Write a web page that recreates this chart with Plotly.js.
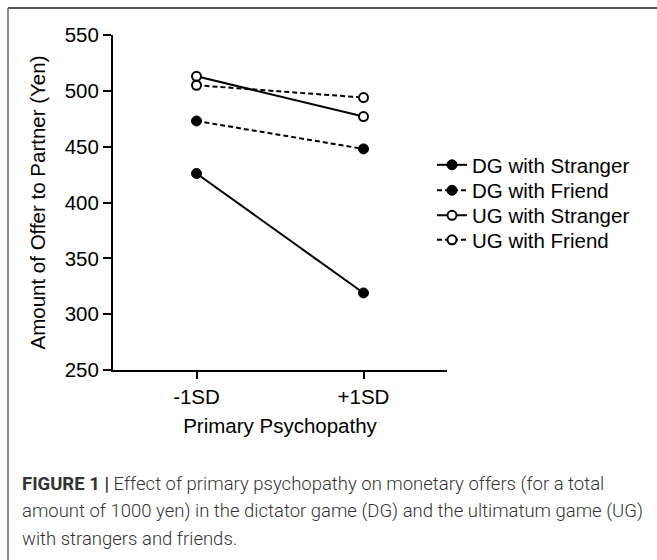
<!DOCTYPE html>
<html>
<head>
<meta charset="utf-8">
<script src="https://cdn.plot.ly/plotly-3.0.1.min.js"></script>
<style>html,body{margin:0;padding:0;background:#fff;}#chart{width:657px;height:560px;}</style>
</head>
<body>
<div id="chart"></div>
<script>
const categories = ['-1SD', '+1SD'];
const dgStranger = [426, 319];
const dgFriend = [473, 448];
const ugStranger = [513, 477];
const ugFriend = [505, 494];
const seriesNames = ['DG with Stranger', 'DG with Friend', 'UG with Stranger', 'UG with Friend'];
const yTicks = [250, 300, 350, 400, 450, 500, 550];
const captionLines = [
  '<b>FIGURE 1 |</b> Effect of primary psychopathy on monetary offers (for a total',
  'amount of 1000 yen) in the dictator game (DG) and the ultimatum game (UG)',
  'with strangers and friends.'
];

const FONT = 'Liberation Sans, Arial, sans-serif';
const xIdx = categories.map((c, i) => i);
const legendIds = ['legend', 'legend2', 'legend3', 'legend4'];

function trace(i, y, dash, filled) {
  return {
    type: 'scatter', mode: 'lines+markers', name: seriesNames[i], legend: legendIds[i],
    x: xIdx, y: y,
    line: {color: '#000', width: 2, dash: dash},
    marker: filled ? {symbol: 'circle', size: 10, color: '#000', line: {color: '#000', width: 1}}
                   : {symbol: 'circle', size: 9, color: '#fff', line: {color: '#000', width: 2}}
  };
}

const data = [
  trace(0, dgStranger, 'solid', true),
  trace(1, dgFriend, '5px,3px', true),
  trace(2, ugStranger, 'solid', false),
  trace(3, ugFriend, '5px,3px', false)
];

const L = 113, R = 447, T = 35, B = 370, W = 657, H = 560;
const px2x = p => (p - L) / (R - L);
const py2y = p => (B - p) / (B - T);

const annotations = captionLines.map((t, i) => ({
  text: t, xref: 'paper', yref: 'paper', x: px2x(20), y: py2y(484 + i * 27.5),
  xanchor: 'left', yanchor: 'middle', showarrow: false, align: 'left',
  font: {family: 'Roboto, Liberation Sans, sans-serif', size: 18.5, color: '#333', weight: 300}
}));

const layout = {
  width: W, height: H,
  margin: {l: L, r: W - R, t: T, b: H - B, pad: 0},
  paper_bgcolor: '#fff', plot_bgcolor: '#fff',
  font: {family: FONT, color: '#000', size: 20.5},
  showlegend: true,
  xaxis: {
    range: [-0.5, 1.5], tickmode: 'array', tickvals: xIdx, ticktext: categories,
    showgrid: false, zeroline: false, showline: true, linecolor: '#000', linewidth: 2,
    ticks: 'outside', ticklen: 7, tickwidth: 2, tickcolor: '#000',
    tickfont: {family: FONT, size: 20.5, color: '#000'},
    title: {text: 'Primary Psychopathy', font: {family: FONT, size: 20.5, color: '#000'}, standoff: 12}
  },
  yaxis: {
    range: [250, 550], tickmode: 'array', tickvals: yTicks,
    showgrid: false, zeroline: false, showline: true, linecolor: '#000', linewidth: 2,
    ticks: 'outside', ticklen: 8, tickwidth: 2, tickcolor: '#000',
    tickfont: {family: FONT, size: 20.5, color: '#000'},
    title: {text: 'Amount of Offer to Partner (Yen)', font: {family: FONT, size: 20.5, color: '#000'}, standoff: 14}
  },
  annotations: annotations,
  shapes: [
    {type: 'line', xref: 'paper', yref: 'paper', x0: px2x(8), x1: px2x(700), y0: py2y(8), y1: py2y(8),
     line: {color: '#555', width: 2}},
    {type: 'line', xref: 'paper', yref: 'paper', x0: px2x(8), x1: px2x(8), y0: py2y(8), y1: py2y(600),
     line: {color: '#666', width: 1.5}}
  ]
};

const rowCenters = [165, 190.5, 215.5, 240];
legendIds.forEach((id, i) => {
  layout[id] = {x: px2x(432), y: py2y(rowCenters[i]), xanchor: 'left', yanchor: 'middle',
    font: {family: FONT, size: 20.5, color: '#000'}, bgcolor: 'rgba(0,0,0,0)',
    borderwidth: 0, itemwidth: 30};
});

Plotly.newPlot('chart', data, layout, {displayModeBar: false, staticPlot: true});
</script>
</body>
</html>
